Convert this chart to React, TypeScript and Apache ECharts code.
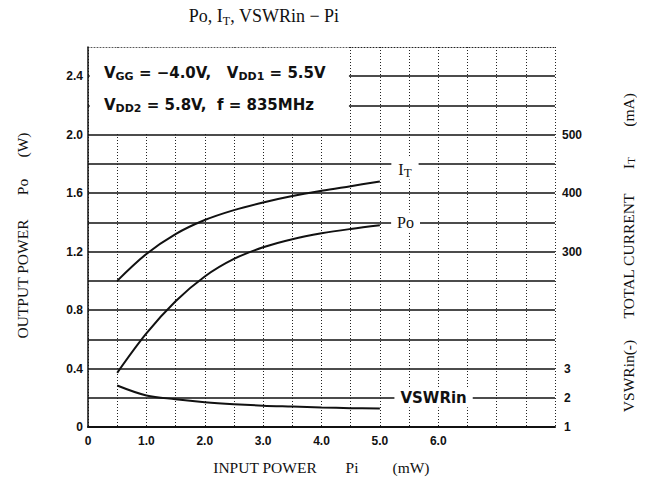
import React, { useEffect, useRef } from "react";
import * as echarts from "echarts";

const inputPower = [0.5, 1.0, 1.5, 2.0, 2.5, 3.0, 3.5, 4.0, 4.5, 5.0];
const outputPower = [0.37, 0.64, 0.86, 1.03, 1.15, 1.23, 1.285, 1.325, 1.355, 1.38];
const totalCurrent = [250, 296, 330, 354, 371, 384, 395, 404, 412, 420];
const vswrIn = [2.42, 2.08, 1.95, 1.85, 1.78, 1.73, 1.7, 1.67, 1.645, 1.63];
const xTickLabels = ["0", "1.0", "2.0", "3.0", "4.0", "5.0", "6.0"];
const leftTickLabels = ["0", "0.4", "0.8", "1.2", "1.6", "2.0", "2.4"];
const currentTickLabels = ["300", "400", "500"];
const vswrTickLabels = ["1", "2", "3"];

const SANS = "'Liberation Sans', Arial, sans-serif";
const DSANS = "'DejaVu Sans', 'Liberation Sans', sans-serif";
const SERIF = "'Liberation Serif', 'DejaVu Serif', serif";

function near(a: number, b: number) {
  return Math.abs(a - b) < 1e-6;
}

export default function App() {
  const ref = useRef<HTMLDivElement>(null);
  useEffect(() => {
    if (!ref.current) return;
    const chart = echarts.init(ref.current, undefined, { renderer: "svg" });
    const pair = (ys: number[]) => inputPower.map((x, i) => [x, ys[i]]);
    const tickStyle = { color: "#111", fontFamily: SANS, fontWeight: "bold" as const, fontSize: 12 };
    const serifText = (text: string, x: number, y: number, rot = 0) => ({
      type: "text",
      z: 100,
      x,
      y,
      rotation: rot,
      style: {
        text,
        fontFamily: SERIF,
        fontSize: 15.5,
        fill: "#111",
        align: "center",
        verticalAlign: "middle",
      },
    });
    const boxRich = {
      a: { fontFamily: DSANS, fontSize: 15, fill: "#111", fontWeight: "bold" },
      s: { fontFamily: DSANS, fontSize: 11, fill: "#111", fontWeight: "bold", padding: [7, 0, 0, 0] },
    };
    chart.setOption({
      animation: false,
      backgroundColor: "#fff",
      grid: { left: 88, right: 90, top: 47, bottom: 66, containLabel: false },
      xAxis: [
        {
          type: "value",
          min: 0,
          max: 8,
          interval: 0.5,
          axisLine: { show: true, lineStyle: { color: "#111", width: 2 } },
          axisTick: { show: false },
          axisLabel: {
            ...tickStyle,
            margin: 8,
            formatter: (v: number) => {
              const i = xTickLabels.findIndex((t, k) => near(k, v));
              return i >= 0 ? xTickLabels[i] : "";
            },
          },
          splitLine: { show: true, lineStyle: { color: "#222", width: 1, type: [1, 2] } },
        },
        {
          type: "value",
          position: "top",
          min: 0,
          max: 8,
          interval: 0.5,
          axisLine: { show: true, onZero: false, lineStyle: { color: "#222", width: 1, type: [1, 2] } },
          axisTick: { show: false },
          axisLabel: { show: false },
          splitLine: { show: false },
        },
      ],
      yAxis: [
        {
          type: "value",
          min: 0,
          max: 2.6,
          interval: 0.2,
          axisLine: { show: true, lineStyle: { color: "#111", width: 1.5 } },
          axisTick: { show: false },
          axisLabel: {
            ...tickStyle,
            margin: 5,
            formatter: (v: number) => {
              const i = leftTickLabels.findIndex((t, k) => near(k * 0.4, v));
              return i >= 0 ? leftTickLabels[i] : "";
            },
          },
          splitLine: { show: true, showMaxLine: false, lineStyle: { color: "#111", width: 1.5 } },
        },
        {
          type: "value",
          position: "right",
          min: 0,
          max: 650,
          interval: 50,
          axisLine: { show: false },
          axisTick: { show: false },
          splitLine: { show: false },
          axisLabel: {
            ...tickStyle,
            margin: 7,
            formatter: (v: number) => (currentTickLabels.includes(String(v)) ? String(v) : ""),
          },
        },
        {
          type: "value",
          position: "right",
          min: 1,
          max: 14,
          interval: 1,
          axisLine: { show: false },
          axisTick: { show: false },
          splitLine: { show: false },
          axisLabel: {
            ...tickStyle,
            margin: 9,
            formatter: (v: number) => (vswrTickLabels.includes(String(v)) ? String(v) : ""),
          },
        },
      ],
      series: [
        {
          name: "Po",
          type: "line",
          xAxisIndex: 0,
          yAxisIndex: 0,
          data: pair(outputPower),
          smooth: 0.35,
          showSymbol: false,
          lineStyle: { color: "#111", width: 2 },
          markArea: {
            silent: true,
            itemStyle: { color: "#fff" },
            data: [[{ xAxis: 0.03, yAxis: 2.015 }, { xAxis: 4.47, yAxis: 2.595 }]],
          },
          markPoint: {
            symbol: "rect",
            symbolSize: 0,
            silent: true,
            label: {
              show: true,
              position: "inside",
              formatter: "Po",
              color: "#111",
              fontFamily: SERIF,
              fontSize: 16,
              backgroundColor: "#fff",
              padding: [2, 6, 2, 6],
            },
            data: [{ coord: [5.44, 1.4] }],
          },
        },
        {
          name: "IT",
          type: "line",
          xAxisIndex: 0,
          yAxisIndex: 1,
          data: pair(totalCurrent),
          smooth: 0.35,
          showSymbol: false,
          lineStyle: { color: "#111", width: 2 },
          markPoint: {
            symbol: "rect",
            symbolSize: 0,
            silent: true,
            label: {
              show: true,
              position: "inside",
              formatter: "{a|I}{s|T}",
              backgroundColor: "#fff",
              padding: [4, 7, 0, 7],
              offset: [0, 4],
              rich: {
                a: { fontFamily: SERIF, fontSize: 16, color: "#111" },
                s: { fontFamily: SERIF, fontSize: 13, color: "#111", padding: [6, 0, 0, 0] },
              },
            },
            data: [{ coord: [5.43, 450] }],
          },
        },
        {
          name: "VSWRin",
          type: "line",
          xAxisIndex: 0,
          yAxisIndex: 2,
          data: pair(vswrIn),
          smooth: 0.35,
          showSymbol: false,
          lineStyle: { color: "#111", width: 2 },
          markPoint: {
            symbol: "rect",
            symbolSize: 0,
            silent: true,
            label: {
              show: true,
              position: "inside",
              formatter: "VSWRin",
              color: "#111",
              fontFamily: DSANS,
              fontWeight: "bold",
              fontSize: 15,
              backgroundColor: "#fff",
              padding: [2, 6, 2, 6],
            },
            data: [{ coord: [5.92, 2] }],
          },
        },
      ],
      graphic: [
        {
          type: "text",
          z: 100,
          x: 264,
          y: 16,
          style: {
            text: "{a|Po, I}{s|T}{a|, VSWRin − Pi}",
            align: "center",
            verticalAlign: "middle",
            rich: {
              a: { fontFamily: SERIF, fontSize: 18, fill: "#111" },
              s: { fontFamily: SERIF, fontSize: 12, fill: "#111", padding: [9, 0, 0, 0] },
            },
          },
        },
        {
          type: "text",
          z: 100,
          x: 104,
          y: 73,
          style: {
            text: "{a|V}{s|GG}{a| = −4.0V,   V}{s|DD1}{a| = 5.5V}",
            verticalAlign: "middle",
            rich: boxRich,
          },
        },
        {
          type: "text",
          z: 100,
          x: 104,
          y: 105,
          style: {
            text: "{a|V}{s|DD2}{a| = 5.8V,  f = 835MHz}",
            verticalAlign: "middle",
            rich: boxRich,
          },
        },
        serifText("OUTPUT POWER", 22, 279, Math.PI / 2),
        serifText("Po", 22, 187, Math.PI / 2),
        serifText("(W)", 22, 145, Math.PI / 2),
        serifText("INPUT POWER", 265, 467),
        serifText("Pi", 352, 467),
        serifText("(mW)", 411, 467),
        serifText("VSWRin(-)", 628, 376, Math.PI / 2),
        serifText("TOTAL CURRENT", 628, 256, Math.PI / 2),
        {
          type: "text",
          z: 100,
          x: 628,
          y: 163,
          rotation: Math.PI / 2,
          style: {
            text: "{a|I}{s|T}",
            align: "center",
            verticalAlign: "middle",
            rich: {
              a: { fontFamily: SERIF, fontSize: 15.5, fill: "#111" },
              s: { fontFamily: SERIF, fontSize: 11, fill: "#111", padding: [6, 0, 0, 0] },
            },
          },
        },
        serifText("(mA)", 628, 110, Math.PI / 2),
      ],
    });
    return () => chart.dispose();
  }, []);
  return <div ref={ref} style={{ width: 645, height: 493, margin: -8 }} />;
}
